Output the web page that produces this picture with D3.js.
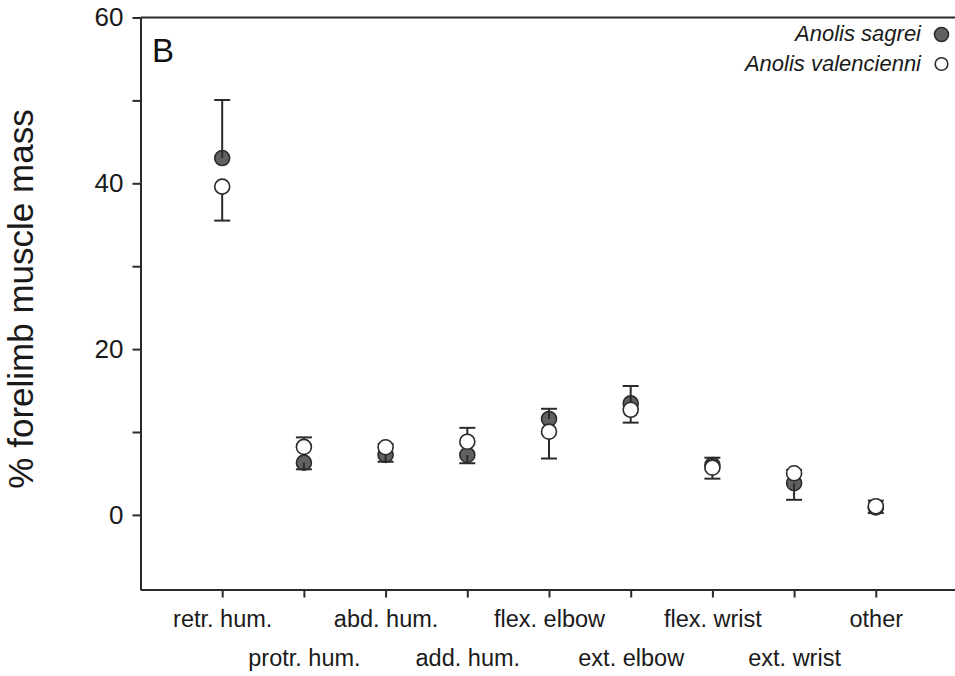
<!DOCTYPE html>
<html>
<head>
<meta charset="utf-8">
<script src="https://cdn.jsdelivr.net/npm/d3@7"></script>
<style>
  html, body { margin: 0; padding: 0; background: #fff; }
  svg { display: block; font-family: "Liberation Sans", Arial, sans-serif; }
</style>
</head>
<body>
<div id="chart"></div>
<script>
const categories = ['retr. hum.', 'protr. hum.', 'abd. hum.', 'add. hum.', 'flex. elbow',
  'ext. elbow', 'flex. wrist', 'ext. wrist', 'other'];
const sagreiMean = [43.05, 6.3, 7.23, 7.23, 11.57, 13.45, 6.0, 3.82, 0.9];
const sagreiSD = [7.0, 0.8, 0.82, 1.0, 1.23, 2.1, 0.9, 2.0, 0.68];
const valencienniMean = [39.6, 8.2, 8.16, 8.83, 10.04, 12.68, 5.7, 5.02, 1.05];
const valencienniSD = [4.1, 1.15, 0.4, 1.67, 3.24, 1.55, 1.33, 0.4, 0.67];
const yTicks = [0, 10, 20, 30, 40, 50, 60];

const width = 955, height = 676;
const plotLeft = 140.5, plotTop = 17.5, plotBottom = 589.5;

const svg = d3.select('#chart').append('svg')
  .attr('width', width)
  .attr('height', height);

const x = d3.scaleLinear().domain([0, 10]).range([plotLeft, 957.5]);
const y = d3.scaleLinear().domain([-9, 60]).range([plotBottom, plotTop]);

const ink = '#2b2b2b';

// frame: top line (no right border visible)
svg.append('line')
  .attr('x1', plotLeft).attr('x2', width + 2)
  .attr('y1', plotTop).attr('y2', plotTop)
  .attr('stroke', ink).attr('stroke-width', 2);

// y axis
const yAxis = svg.append('g')
  .attr('transform', `translate(${plotLeft},0)`)
  .call(d3.axisLeft(y).tickValues(yTicks).tickSize(8).tickSizeOuter(0).tickPadding(9)
    .tickFormat((d) => (d % 20 === 0 ? d : '')));
yAxis.select('.domain').attr('stroke', ink).attr('stroke-width', 2);
yAxis.selectAll('.tick line').attr('stroke', ink).attr('stroke-width', 2);
yAxis.selectAll('.tick text')
  .attr('fill', '#1a1a1a')
  .style('font-size', '26px')
  .style('font-family', '"Liberation Sans", Arial, sans-serif');

// x axis
const xAxis = svg.append('g')
  .attr('transform', `translate(0,${plotBottom})`)
  .call(d3.axisBottom(x).tickValues(d3.range(1, categories.length + 1)).tickSize(8).tickSizeOuter(0)
    .tickFormat((d) => categories[d - 1]));
xAxis.select('.domain').attr('stroke', ink).attr('stroke-width', 2)
  .attr('d', `M${plotLeft},0.5H${width + 2}`);
xAxis.selectAll('.tick line').attr('stroke', ink).attr('stroke-width', 2);
xAxis.selectAll('.tick text')
  .attr('fill', '#1a1a1a')
  .attr('dy', null)
  .attr('y', (d) => (d % 2 === 1 ? 37.5 : 76.5))
  .style('font-size', '23.5px')
  .style('font-family', '"Liberation Sans", Arial, sans-serif');

// y title
svg.append('text')
  .attr('transform', `translate(33,299) rotate(-90)`)
  .attr('text-anchor', 'middle')
  .attr('fill', '#1a1a1a')
  .style('font-size', '35px')
  .text('% forelimb muscle mass');

// panel letter
svg.append('text')
  .attr('x', 152).attr('y', 62)
  .attr('fill', '#111')
  .style('font-size', '33px')
  .text('B');

// points
const rows = categories.map((c, i) => ({
  i: i + 1,
  s: sagreiMean[i], sSD: sagreiSD[i],
  v: valencienniMean[i], vSD: valencienniSD[i],
}));

const r = 7.5;
const fillDark = '#616161';

// sagrei (filled) drawn first
svg.append('g').selectAll('circle')
  .data(rows).join('circle')
  .attr('cx', (d) => x(d.i)).attr('cy', (d) => y(d.s)).attr('r', r)
  .attr('fill', fillDark).attr('stroke', ink).attr('stroke-width', 1.6);

// error bars: higher mean gets the upper bar, lower mean the lower bar
const bars = [];
rows.forEach((d) => {
  const sUp = d.s >= d.v;
  bars.push({ i: d.i, from: d.s, to: sUp ? d.s + d.sSD : d.s - d.sSD });
  bars.push({ i: d.i, from: d.v, to: sUp ? d.v - d.vSD : d.v + d.vSD });
});
const capW = 8;
const eb = svg.append('g').attr('stroke', ink).attr('stroke-width', 2);
eb.selectAll('line.stem').data(bars).join('line').attr('class', 'stem')
  .attr('x1', (d) => x(d.i)).attr('x2', (d) => x(d.i))
  .attr('y1', (d) => y(d.from)).attr('y2', (d) => y(d.to));
eb.selectAll('line.cap').data(bars).join('line').attr('class', 'cap')
  .attr('x1', (d) => x(d.i) - capW).attr('x2', (d) => x(d.i) + capW)
  .attr('y1', (d) => y(d.to)).attr('y2', (d) => y(d.to));

// valencienni (open) on top
svg.append('g').selectAll('circle')
  .data(rows).join('circle')
  .attr('cx', (d) => x(d.i)).attr('cy', (d) => y(d.v)).attr('r', r)
  .attr('fill', '#fff').attr('stroke', ink).attr('stroke-width', 1.6);

// legend
const legend = [
  { name: 'Anolis sagrei', fill: fillDark, y: 40.5, cy: 34.5, r: 7 },
  { name: 'Anolis valencienni', fill: '#fff', y: 70.5, cy: 64, r: 6.3 },
];
const lg = svg.append('g');
lg.selectAll('text').data(legend).join('text')
  .attr('x', 921).attr('y', (d) => d.y)
  .attr('text-anchor', 'end')
  .attr('fill', '#1a1a1a')
  .style('font-size', '22px')
  .style('font-style', 'italic')
  .text((d) => d.name);
lg.selectAll('circle').data(legend).join('circle')
  .attr('cx', 941.5).attr('cy', (d) => d.cy).attr('r', (d) => d.r)
  .attr('fill', (d) => d.fill).attr('stroke', ink).attr('stroke-width', 1.6);
</script>
</body>
</html>
